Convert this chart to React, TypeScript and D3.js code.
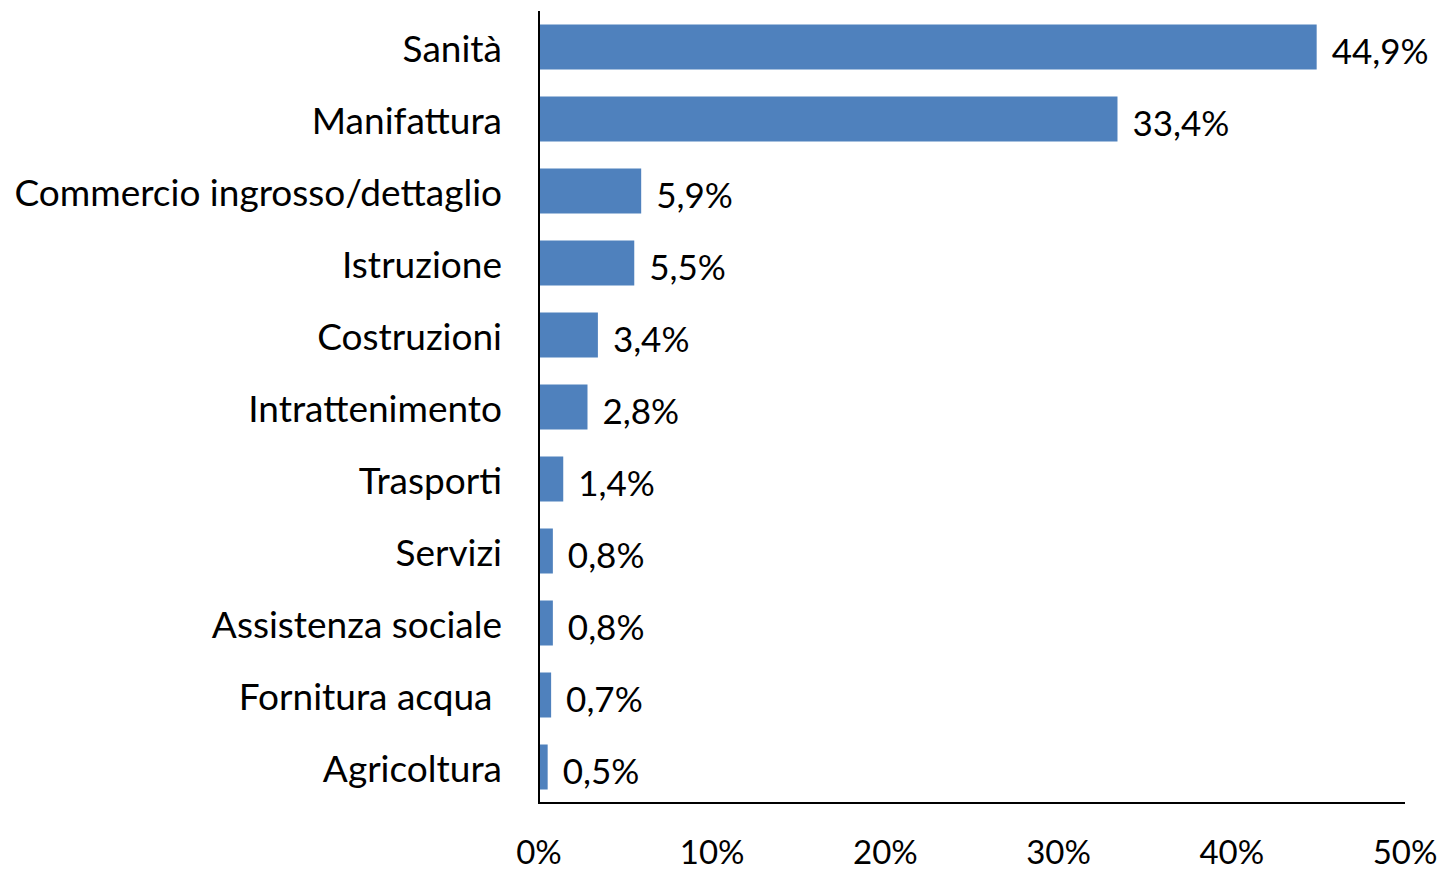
import React, { useEffect } from "react";
import * as d3 from "d3";

const categories = [
  "Sanità",
  "Manifattura",
  "Commercio ingrosso/dettaglio",
  "Istruzione",
  "Costruzioni",
  "Intrattenimento",
  "Trasporti",
  "Servizi",
  "Assistenza sociale",
  "Fornitura acqua ",
  "Agricoltura",
];
const values = [0.449, 0.334, 0.059, 0.055, 0.034, 0.028, 0.014, 0.008, 0.008, 0.007, 0.005];
const ticks = [0, 0.1, 0.2, 0.3, 0.4, 0.5];

const W = 1444;
const H = 870;
const FONT = "Lato, 'Open Sans', sans-serif";

export default function App() {
  useEffect(() => {
    document.body.style.margin = "0";
  }, []);
  const x = d3.scaleLinear().domain([0, 0.5]).range([539, 1405]);
  const y = d3
    .scaleBand<string>()
    .domain(categories)
    .range([11, 803])
    .paddingInner(0.375)
    .paddingOuter(0.1875);
  const fmt = (v: number) => (v * 100).toFixed(1).replace(".", ",") + "%";
  const tfmt = (v: number) => Math.round(v * 100) + "%";
  return (
    <svg width={W} height={H} style={{ display: "block", background: "#fff" }}>
      {categories.map((c, i) => {
        const yy = y(c)!;
        const bw = y.bandwidth();
        return (
          <g key={c}>
            <rect x={x(0)} y={yy} width={x(values[i]) - x(0)} height={bw} fill="#4F81BD" />
            <text
              x={502}
              y={yy + bw / 2}
              textAnchor="end"
              dominantBaseline="central"
              fontFamily={FONT}
              fontSize={37}
              fill="#000"
              style={{ whiteSpace: "pre" }}
            >
              {c}
            </text>
            <text
              x={x(values[i]) + 15}
              y={yy + bw / 2 + 3}
              dominantBaseline="central"
              fontFamily={FONT}
              fontSize={35}
              fill="#000"
            >
              {fmt(values[i])}
            </text>
          </g>
        );
      })}
      <line x1={x(0)} x2={x(0)} y1={11} y2={804} stroke="#000" strokeWidth={2} />
      <line x1={x(0)} x2={x(0.5)} y1={803} y2={803} stroke="#000" strokeWidth={2} />
      {ticks.map((t) => (
        <text
          key={t}
          x={x(t)}
          y={851}
          textAnchor="middle"
          dominantBaseline="central"
          fontFamily={FONT}
          fontSize={33}
          fill="#000"
        >
          {tfmt(t)}
        </text>
      ))}
    </svg>
  );
}
